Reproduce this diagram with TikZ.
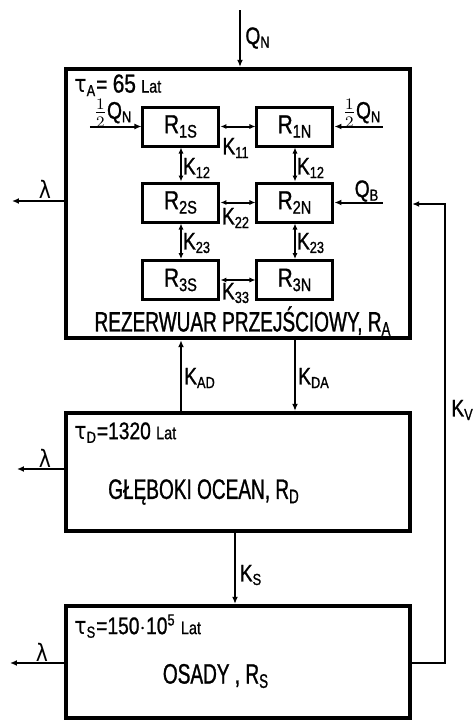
\documentclass[tikz,border=0pt]{standalone}
\usepackage{fontspec}
\setmainfont{Liberation Sans}[FakeStretch=0.8, FakeBold=1]
\newfontfamily\grk{DejaVu Sans}[FakeStretch=0.85]
\newfontfamily\stencil{Liberation Sans}[FakeStretch=0.68, FakeBold=1]
\usepackage{tikz}
\usetikzlibrary{arrows.meta, positioning, calc}

\begin{document}
\begin{tikzpicture}[x=0.5pt, y=-0.5pt,
    outer/.style={draw, line width=2.2pt, minimum width=172pt},
    box/.style={draw, line width=1.5pt, minimum width=38pt, minimum height=19.5pt, font=\fontsize{13}{15}\selectfont},
    arrow/.style={-{Latex[length=3.5pt, width=3pt]}, line width=1pt},
    both/.style={{Latex[length=3pt, width=2.6pt]}-{Latex[length=3pt, width=2.6pt]}, line width=1pt},
    lbl/.style={font=\fontsize{12}{14}\selectfont, inner sep=1pt},
    title/.style={font=\stencil\fontsize{14}{16}\selectfont, inner sep=1pt}
]
    \useasboundingbox (0,0) rectangle (474,720);
    % zbiorniki
    \node[outer, minimum height=134.5pt] (A) at (238,203.5) {};
    \node[outer, minimum height=59pt] (D) at (238,472) {};
    \node[outer, minimum height=56pt] (S) at (238,662) {};
    \node[box] (r1s) at (181,126.5) {R\textsubscript{1S}};
    \node[box] (r1n) at (295,126.5) {R\textsubscript{1N}};
    \node[box] (r2s) at (181,202.5) {R\textsubscript{2S}};
    \node[box] (r2n) at (295,202.5) {R\textsubscript{2N}};
    \node[box] (r3s) at (181,280) {R\textsubscript{3S}};
    \node[box] (r3n) at (295,280) {R\textsubscript{3N}};
    % wymiana wewnatrz R_A
    \draw[both] (r1s) -- (r1n);
    \draw[both] (r2s) -- (r2n);
    \draw[both] (r3s) -- (r3n);
    \draw[both] (r1s) -- (r2s);
    \draw[both] (r2s) -- (r3s);
    \draw[both] (r1n) -- (r2n);
    \draw[both] (r2n) -- (r3n);
    \node[lbl] (k11) at (236,148) {K\textsubscript{11}};
    \node[lbl] (k22) at (236,218) {K\textsubscript{22}};
    \node[lbl] (k33) at (236,293) {K\textsubscript{33}};
    \node[lbl] (k12s) at (197,168) {K\textsubscript{12}};
    \node[lbl] (k12n) at (311,168) {K\textsubscript{12}};
    \node[lbl] (k23s) at (197,243) {K\textsubscript{23}};
    \node[lbl] (k23n) at (311,243) {K\textsubscript{23}};
    % doplywy
    \coordinate (qn) at (240,10);
    \draw[arrow] (qn) -- (qn |- A.north);
    \node[lbl] (qnlbl) at (258,38) {Q\textsubscript{N}};
    \coordinate (qs) at (90,126.5);
    \draw[arrow] (qs) -- (r1s);
    \node[lbl] (qslbl) at (113,113) {$\frac{1}{2}$Q\textsubscript{N}};
    \coordinate (qe) at (383,126.5);
    \draw[arrow] (qe) -- (r1n);
    \node[lbl] (qelbl) at (362,113) {$\frac{1}{2}$Q\textsubscript{N}};
    \coordinate (qb) at (383,202.5);
    \draw[arrow] (qb) -- (r2n);
    \node[lbl] (qblbl) at (367,191) {Q\textsubscript{B}};
    % rozpad
    \coordinate (la) at (12,201);
    \coordinate (ld) at (17,469);
    \coordinate (ls) at (10,663);
    \draw[arrow] (A.west |- la) -- (la);
    \draw[arrow] (D.west |- ld) -- (ld);
    \draw[arrow] (S.west |- ls) -- (ls);
    \node[lbl] (lalbl) at (45,189) {\grk λ};
    \node[lbl] (ldlbl) at (45,458) {\grk λ};
    \node[lbl] (lslbl) at (42,652) {\grk λ};
    % wymiana miedzy zbiornikami
    \draw[arrow] (D.north -| r3s) -- (A.south -| r3s);
    \draw[arrow] (A.south -| r3n) -- (D.north -| r3n);
    \node[lbl] (kad) at (200,378) {K\textsubscript{AD}};
    \node[lbl] (kda) at (314,378) {K\textsubscript{DA}};
    \coordinate (ks) at (235,570);
    \draw[arrow] (D.south -| ks) -- (S.north -| ks);
    \node[lbl] (kslbl) at (251,575) {K\textsubscript{S}};
    \coordinate (vin) at (445,204);
    \coordinate (vout) at (445,663);
    \draw[arrow] (S.east |- vout) -- (vout) -- (vin) -- (A.east |- vin);
    \node[lbl, anchor=west] (kv) at (449,410) {K\textsubscript{V}};
    % opisy
    \node[lbl, anchor=north west] (ta) at (72,72) {{\grk τ}\textsubscript{A}= {\fontsize{13}{15}\selectfont 65} {\small Lat}};
    \node[lbl, anchor=north west] (td) at (72,420) {{\grk τ}\textsubscript{D}=1320 {\small Lat}};
    \node[lbl, anchor=north west] (ts) at (72,612) {{\grk τ}\textsubscript{S}=150$\cdot$10\textsuperscript{5} {\small Lat}};
    \node[title] (na) at (243,321) {REZERWUAR PRZEJŚCIOWY, R\textsubscript{A}};
    \node[title] (nd) at (204,492) {GŁĘBOKI OCEAN, R\textsubscript{D}};
    \node[title] (ns) at (216,676) {OSADY , R\textsubscript{S}};
\end{tikzpicture}
\end{document}
